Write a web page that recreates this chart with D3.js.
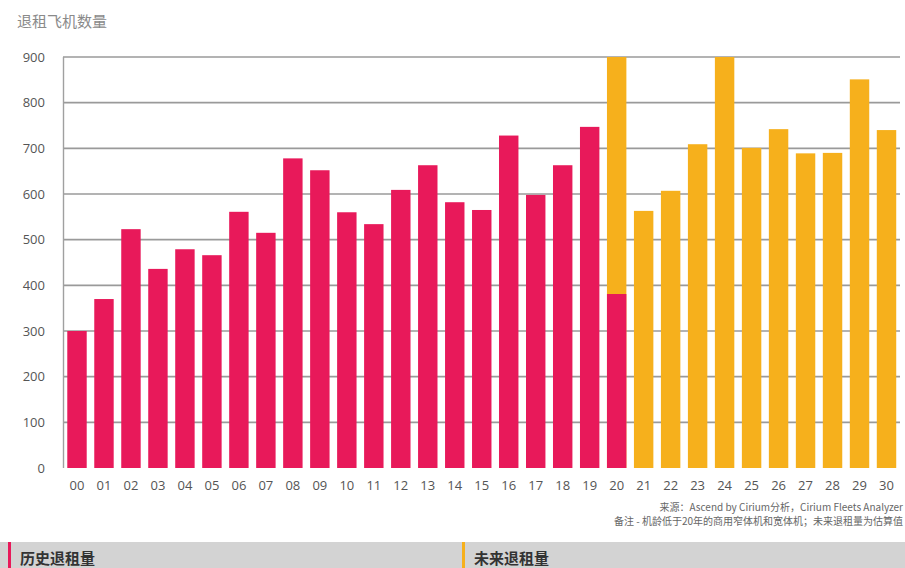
<!DOCTYPE html>
<html>
<head>
<meta charset="utf-8">
<script src="https://cdn.jsdelivr.net/npm/d3@7/dist/d3.min.js"></script>
<style>
  html, body { margin: 0; padding: 0; background: #fff; }
  svg { display: block; }
</style>
</head>
<body>
<svg id="chart" width="905" height="568"></svg>
<script>
// Years 2000–2030, two-digit labels
const years = ["00","01","02","03","04","05","06","07","08","09","10","11","12","13","14","15",
               "16","17","18","19","20","21","22","23","24","25","26","27","28","29","30"];

// Historical retirements (2000–2020)
const historical = [300, 370, 523, 436, 479, 466, 561, 515, 678, 652, 560, 534, 609, 663, 582, 565,
                    728, 598, 663, 747, 381];

// Forecast retirements (2020–2030); 2020 shows the full-year estimate
const forecastYears = ["20","21","22","23","24","25","26","27","28","29","30"];
const forecast = [900, 563, 607, 709, 900, 701, 742, 689, 690, 851, 740];

const yTicks = [0, 100, 200, 300, 400, 500, 600, 700, 800, 900];

const title = "退租飞机数量";
const sourceLines = [
  "来源：Ascend by Cirium分析，Cirium Fleets Analyzer",
  "备注 - 机龄低于20年的商用窄体机和宽体机；未来退租量为估算值"
];
const legendItems = [
  { label: "历史退租量", color: "#e8195a" },
  { label: "未来退租量", color: "#f6b01c" }
];

const PINK = "#e8195a", ORANGE = "#f6b01c";
const latin = "'Open Sans', 'Noto Sans', sans-serif";
const cjk = "'Noto Sans CJK SC', 'Noto Sans', sans-serif";

const svg = d3.select("#chart");

const x = d3.scaleBand().domain(years).range([63.5, 900]).paddingInner(0.28).paddingOuter(0.14);
const y = d3.scaleLinear().domain([0, 900]).range([468, 57]);

// Title
svg.append("text")
  .attr("x", 17).attr("y", 27)
  .attr("font-family", cjk).attr("font-size", 15)
  .attr("fill", "#8a8a8a")
  .text(title);

// Gridlines
svg.append("g")
  .selectAll("line")
  .data(yTicks.filter(d => d > 0))
  .join("line")
  .attr("x1", 63).attr("x2", 900)
  .attr("y1", d => y(d)).attr("y2", d => y(d))
  .attr("stroke", "#9a9a9a").attr("stroke-width", 1.6);

// Left axis line
svg.append("line")
  .attr("x1", 63.5).attr("x2", 63.5)
  .attr("y1", y(900)).attr("y2", y(0))
  .attr("stroke", "#a0a0a0").attr("stroke-width", 1.4);

// Y axis labels
const yAxis = d3.axisLeft(y).tickValues(yTicks).tickSize(0).tickPadding(0);
const gy = svg.append("g").attr("transform", "translate(45,0)").call(yAxis);
gy.select(".domain").remove();
gy.selectAll("text")
  .attr("font-family", latin).attr("font-size", 13)
  .attr("fill", "#555");

// Forecast bars (drawn first so the 2020 historical part sits on top)
svg.append("g")
  .selectAll("rect")
  .data(forecastYears.map((k, i) => ({ k, v: forecast[i] })))
  .join("rect")
  .attr("x", d => x(d.k))
  .attr("width", x.bandwidth())
  .attr("y", d => y(d.v))
  .attr("height", d => y(0) - y(d.v))
  .attr("fill", ORANGE);

// Historical bars
svg.append("g")
  .selectAll("rect")
  .data(historical.map((v, i) => ({ k: years[i], v })))
  .join("rect")
  .attr("x", d => x(d.k))
  .attr("width", x.bandwidth())
  .attr("y", d => y(d.v))
  .attr("height", d => y(0) - y(d.v))
  .attr("fill", PINK);

// X axis labels
const xAxis = d3.axisBottom(x).tickSize(0).tickPadding(0);
const gx = svg.append("g").attr("transform", "translate(0,481)").call(xAxis);
gx.select(".domain").remove();
gx.selectAll("text")
  .attr("font-family", latin).attr("font-size", 13)
  .attr("fill", "#555");

// Source notes
svg.append("g")
  .selectAll("text")
  .data(sourceLines)
  .join("text")
  .attr("x", 903)
  .attr("y", (d, i) => 511 + i * 14)
  .attr("text-anchor", "end")
  .attr("font-family", cjk).attr("font-size", 10)
  .attr("fill", "#666")
  .text(d => d);

// Bottom legend band
svg.append("rect")
  .attr("x", 0).attr("y", 542).attr("width", 905).attr("height", 26)
  .attr("fill", "#d3d3d3");

const legendX = [8, 462];
const lg = svg.append("g")
  .selectAll("g")
  .data(legendItems)
  .join("g")
  .attr("transform", (d, i) => `translate(${legendX[i]},542)`);
lg.append("rect")
  .attr("x", 0).attr("y", 0).attr("width", 3).attr("height", 26)
  .attr("fill", d => d.color);
lg.append("text")
  .attr("x", 12).attr("y", 22)
  .attr("font-family", cjk).attr("font-size", 15).attr("font-weight", 700)
  .attr("fill", "#333")
  .text(d => d.label);
</script>
</body>
</html>
